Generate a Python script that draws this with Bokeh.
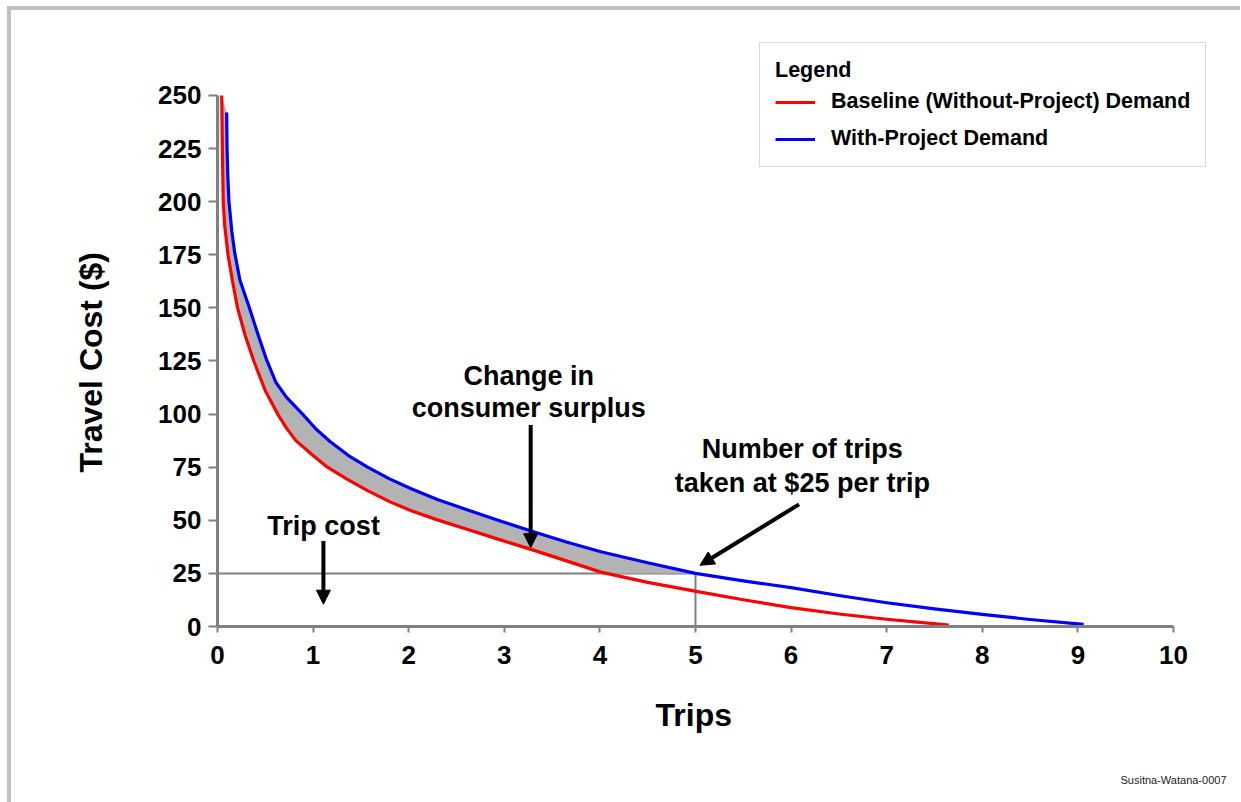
import numpy as np
from bokeh.plotting import figure
from bokeh.models import (FixedTicker, Label, Arrow, NormalHead, Legend, LegendItem, Title)
from bokeh.embed import file_html
from bokeh.resources import INLINE

# ---- data ----
red_trips = [0.044, 0.05, 0.055, 0.06, 0.075, 0.11, 0.155, 0.21, 0.29, 0.38, 0.50, 0.63,
             0.72, 0.82, 1.0, 1.15, 1.35, 1.57, 1.8, 2.02, 2.3, 2.61, 2.95, 3.28, 3.65,
             4.01, 4.5, 4.98, 5.5, 6.0, 6.5, 7.0, 7.35, 7.65]
red_cost = [250, 228, 213, 200, 189, 175, 163, 150, 137, 125, 111, 100,
            93.5, 87.5, 80.5, 75, 69.5, 64, 58.8, 54.6, 50.2, 45.8, 40.9, 36.3, 30.9,
            25.6, 20.8, 16.8, 12.6, 8.9, 5.9, 3.4, 1.9, 0.7]

blue_trips = [0.096, 0.10, 0.108, 0.12, 0.15, 0.18, 0.235, 0.33, 0.42, 0.51, 0.61, 0.72,
              0.89, 1.03, 1.18, 1.37, 1.57, 1.8, 2.02, 2.3, 2.61, 2.95, 3.28, 3.65, 4.01,
              4.5, 5.0, 5.5, 6.0, 6.5, 7.0, 7.5, 8.0, 8.5, 9.06]
blue_cost = [242, 225, 212, 200, 186, 176, 163, 150.5, 138, 126, 115, 108,
             100, 93, 87, 80.5, 75, 69.5, 65, 59.8, 55, 49.8, 45, 39.8, 35.2,
             30, 25, 21.5, 18.3, 14.6, 11.2, 8.3, 5.7, 3.3, 1.0]

trip_price = 25
trips_at_price = 5.0

x_ticks = [0, 1, 2, 3, 4, 5, 6, 7, 8, 9, 10]
y_ticks = [0, 25, 50, 75, 100, 125, 150, 175, 200, 225, 250]

legend_labels = ["Baseline (Without-Project) Demand", "With-Project Demand"]

FONT = "Liberation Sans"
AXIS_GREY = "#808080"

p = figure(width=1229, height=792, output_backend="svg", toolbar_location=None,
           x_range=(0, 10.45), y_range=(0, 275.89),
           frame_width=999, frame_height=586,
           min_border_left=206, min_border_top=30, min_border_right=24, min_border_bottom=176)
p.styles = {"border-left": "4px solid #c0c0c0", "border-top": "4px solid #c0c0c0",
            "margin-left": "7px", "margin-top": "6px"}
p.outline_line_color = None
p.grid.visible = False
p.background_fill_color = "white"
p.border_fill_color = "white"

for ax, ticks, tout, stand, bnds in ((p.xaxis, x_ticks, 6, 13, (0, 10)),
                                     (p.yaxis, y_ticks, 9, 7, (0, 250))):
    ax.ticker = FixedTicker(ticks=ticks)
    ax.bounds = bnds
    ax.axis_line_color = AXIS_GREY
    ax.axis_line_width = 3
    ax.major_tick_line_color = AXIS_GREY
    ax.major_tick_line_width = 2
    ax.major_tick_in = 0
    ax.major_tick_out = tout
    ax.minor_tick_line_color = None
    ax.major_label_text_font = FONT
    ax.major_label_text_font_style = "bold"
    ax.major_label_text_font_size = "26px"
    ax.major_label_text_color = "black"
    ax.major_label_standoff = stand

# axis titles (placed as titles so they centre on the 0-10 / 0-250 axes)
x_title = Title(text="Trips", align="left", offset=438, vertical_align="bottom", standoff=57,
                text_font=FONT, text_font_style="bold", text_font_size="32px",
                text_color="black")
p.add_layout(x_title, "below")
wm = Title(text="Susitna-Watana-0007", align="right", offset=-10, vertical_align="bottom",
           standoff=21, text_font=FONT, text_font_size="11px", text_font_style="normal",
           text_color="#222222")
p.add_layout(wm, "below")
y_title = Title(text="Travel Cost ($)", align="left", offset=154, vertical_align="bottom",
                standoff=94, text_font=FONT, text_font_style="bold", text_font_size="32px",
                text_color="black")
p.add_layout(y_title, "left")

# price lines
bt = np.array(blue_trips); bc = np.array(blue_cost)
rt = np.array(red_trips); rc = np.array(red_cost)
p.line([0, trips_at_price], [trip_price, trip_price], line_color=AXIS_GREY, line_width=2)
p.line([trips_at_price, trips_at_price], [0, trip_price], line_color=AXIS_GREY, line_width=2)

# change in consumer surplus (between the curves, above the trip price)
xb = np.interp(trip_price, bc[::-1], bt[::-1])
xr = np.interp(trip_price, rc[::-1], rt[::-1])
bm = bc >= trip_price
rm = rc >= trip_price
fill_x = list(bt[bm]) + [xb, xr] + list(rt[rm][::-1])
fill_y = list(bc[bm]) + [trip_price, trip_price] + list(rc[rm][::-1])
p.patch(fill_x, fill_y, fill_color="#b3b3b3", line_color=None)

r_red = p.line(red_trips, red_cost, line_color="#ff0000", line_width=3.2, line_join="round")
r_blue = p.line(blue_trips, blue_cost, line_color="#0000ff", line_width=3.2, line_join="round")

legend = Legend(items=[LegendItem(label=legend_labels[0], renderers=[r_red]),
                       LegendItem(label=legend_labels[1], renderers=[r_blue])],
                title="Legend", location=(542, 459))
legend.title_text_font = FONT
legend.title_text_font_style = "bold"
legend.title_text_font_size = "21.5px"
legend.title_text_color = "black"
legend.label_text_font = FONT
legend.label_text_font_style = "bold"
legend.label_text_font_size = "21.5px"
legend.label_text_color = "black"
legend.glyph_width = 40
legend.glyph_height = 20
legend.label_standoff = 16
legend.padding = 15
legend.spacing = 12
legend.title_standoff = 6
legend.border_line_color = "#b4b4b4"
legend.border_line_width = 1
legend.background_fill_color = "white"
legend.background_fill_alpha = 1
legend.margin = 0
p.add_layout(legend, "center")

# annotations
def add_text(txt, x, y, size="27px"):
    p.add_layout(Label(x=x, y=y, text=txt, text_font=FONT, text_font_style="bold",
                       text_font_size=size, text_align="center", text_baseline="alphabetic",
                       text_color="black"))

add_text("Trip cost", 1.11, 47.3)
add_text("Change in", 3.255, 117.9)
add_text("consumer surplus", 3.255, 103.0)
add_text("Number of trips", 6.118, 83.4)
add_text("taken at $25 per trip", 6.118, 67.7)

for (xs, ys, xe, ye) in ((1.108, 40.3, 1.108, 10.5), (3.276, 94.9, 3.276, 37.1),
                         (6.083, 57.5, 5.047, 28.8)):
    p.add_layout(Arrow(x_start=xs, y_start=ys, x_end=xe, y_end=ye, line_width=4,
                       line_color="black",
                       end=NormalHead(size=14, fill_color="black", line_color="black")))

open("out.html", "w").write(file_html(p, INLINE))
